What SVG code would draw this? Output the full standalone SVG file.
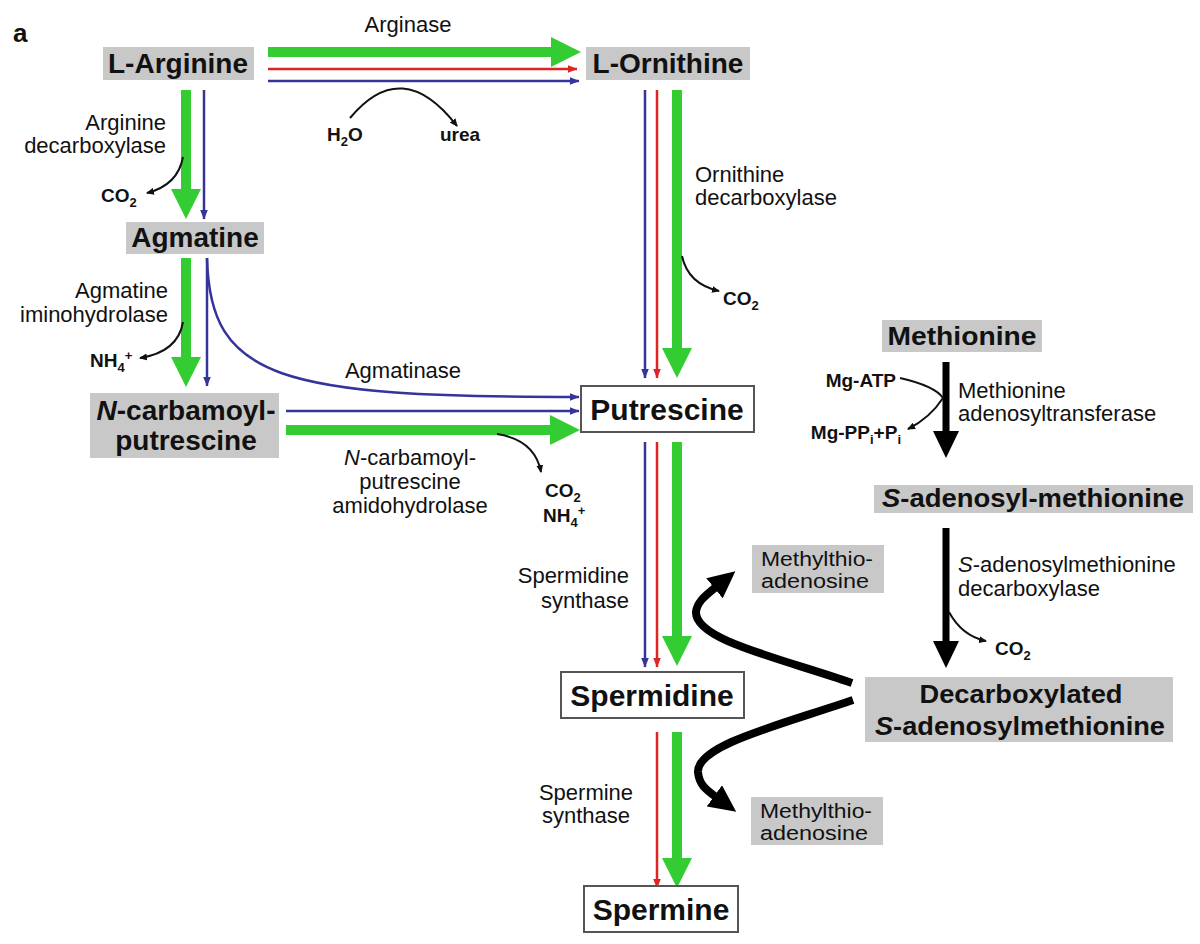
<svg xmlns="http://www.w3.org/2000/svg" width="1200" height="944" viewBox="0 0 1200 944">
<defs>
<style>
text{font-family:"Liberation Sans",Arial,sans-serif;fill:#111}
.node{font-weight:bold;font-size:28px;text-anchor:middle}
.big{font-weight:bold;font-size:30px;text-anchor:middle}
.rt{font-weight:bold;font-size:26px;text-anchor:middle}
.lbl{font-size:22px}
.mta{font-size:20px;text-anchor:middle}
.mid{text-anchor:middle}
.end{text-anchor:end}
.chem{font-weight:bold;font-size:19px}
.sub{font-size:13px}
.gbox{fill:#c8c8c8}
.wbox{fill:#fff;stroke:#555;stroke-width:2}
.g{stroke:#33cc33;stroke-width:10;fill:none}
.r{stroke:#e02424;stroke-width:2.5;fill:none}
.b{stroke:#34349a;stroke-width:2.5;fill:none}
.k{stroke:#111;stroke-width:2;fill:none}
.K{stroke:#000;stroke-width:7;fill:none}
.KC{stroke:#000;stroke-width:8;fill:none}
</style>
<marker id="gh" markerUnits="userSpaceOnUse" markerWidth="31" markerHeight="30" refX="0" refY="15" orient="auto"><path d="M0,0 L30,15 L0,30 z" fill="#33cc33"/></marker>
<marker id="rh" markerUnits="userSpaceOnUse" markerWidth="10" markerHeight="8" refX="9.5" refY="4" orient="auto"><path d="M0,0 L10,4 L0,8 z" fill="#e02424"/></marker>
<marker id="bh" markerUnits="userSpaceOnUse" markerWidth="10" markerHeight="8" refX="9.5" refY="4" orient="auto"><path d="M0,0 L10,4 L0,8 z" fill="#34349a"/></marker>
<marker id="kh" markerUnits="userSpaceOnUse" markerWidth="8" markerHeight="7" refX="7" refY="3.5" orient="auto"><path d="M0,0 L8,3.5 L0,7 z" fill="#111"/></marker>
<marker id="Kh" markerUnits="userSpaceOnUse" markerWidth="28" markerHeight="26" refX="0" refY="13" orient="auto"><path d="M0,0 L27,13 L0,26 z" fill="#000"/></marker>
<marker id="KCh" markerUnits="userSpaceOnUse" markerWidth="28" markerHeight="26" refX="2" refY="13" orient="auto"><path d="M0,0 L27,13 L0,26 z" fill="#000"/></marker>
</defs>
<rect width="1200" height="944" fill="#fff"/>
<text x="13" y="42" style="font-weight:bold;font-size:26px">a</text>

<g id="connectors">
<!-- Arginine -> Ornithine -->
<line class="g" x1="268" y1="52" x2="551" y2="52" marker-end="url(#gh)"/>
<line class="r" x1="268" y1="69" x2="577" y2="69" marker-end="url(#rh)"/>
<line class="b" x1="268" y1="81" x2="579" y2="81" marker-end="url(#bh)"/>
<path class="k" d="M350,118 Q402,55 457,126" marker-end="url(#kh)"/>
<!-- Arginine -> Agmatine -->
<line class="g" x1="186" y1="90" x2="186" y2="189" marker-end="url(#gh)"/>
<line class="b" x1="204" y1="90" x2="204" y2="219" marker-end="url(#bh)"/>
<path class="k" d="M183,157 Q178,185 147,193" marker-end="url(#kh)"/>
<!-- Agmatine -> N-carbamoyl -->
<line class="g" x1="186" y1="258" x2="186" y2="357" marker-end="url(#gh)"/>
<line class="b" x1="207" y1="258" x2="207" y2="386" marker-end="url(#bh)"/>
<path class="k" d="M183,322 Q178,352 140,358" marker-end="url(#kh)"/>
<!-- Agmatinase -->
<path class="b" d="M207,258 C210,380 280,397 579,397" marker-end="url(#bh)"/>
<!-- N-carbamoyl -> Putrescine -->
<line class="b" x1="286" y1="411" x2="579" y2="411" marker-end="url(#bh)"/>
<line class="g" x1="286" y1="430" x2="550" y2="430" marker-end="url(#gh)"/>
<path class="k" d="M497,434 Q535,440 541,472" marker-end="url(#kh)"/>
<!-- Ornithine -> Putrescine -->
<line class="b" x1="645" y1="90" x2="645" y2="378" marker-end="url(#bh)"/>
<line class="r" x1="657" y1="90" x2="657" y2="378" marker-end="url(#rh)"/>
<line class="g" x1="677" y1="90" x2="677" y2="348" marker-end="url(#gh)"/>
<path class="k" d="M682,256 Q688,284 719,291" marker-end="url(#kh)"/>
<!-- Putrescine -> Spermidine -->
<line class="b" x1="645" y1="442" x2="645" y2="667" marker-end="url(#bh)"/>
<line class="r" x1="657" y1="442" x2="657" y2="667" marker-end="url(#rh)"/>
<line class="g" x1="677" y1="442" x2="677" y2="636" marker-end="url(#gh)"/>
<!-- Spermidine -> Spermine -->
<line class="r" x1="657" y1="732" x2="657" y2="888" marker-end="url(#rh)"/>
<line class="g" x1="677" y1="732" x2="677" y2="858" marker-end="url(#gh)"/>
<!-- Methionine -> SAM -->
<line class="K" x1="946" y1="362" x2="946" y2="431" marker-end="url(#Kh)"/>
<path class="k" d="M900,378 Q935,386 943,398 Q930,418 908,429" marker-end="url(#kh)"/>
<!-- SAM -> dcSAM -->
<line class="K" x1="946" y1="528" x2="946" y2="641" marker-end="url(#Kh)"/>
<path class="k" d="M949,612 Q962,636 986,641" marker-end="url(#kh)"/>
<!-- dcSAM -> MTA -->
<path class="KC" d="M852,683 C780,658 695,640 696,612 C697,602 705,596 716,587" marker-end="url(#KCh)"/>
<path class="KC" d="M853,700 C780,725 697,745 698,772 C699,784 705,789 716,797" marker-end="url(#KCh)"/>
</g>

<g id="labels">
<text class="lbl mid" x="408" y="32">Arginase</text>
<text class="chem" x="327" y="141">H<tspan class="sub" dy="5">2</tspan><tspan dy="-5">O</tspan></text>
<text class="chem" x="440" y="141">urea</text>
<text class="lbl end" x="166" y="130">Arginine</text>
<text class="lbl end" x="166" y="153">decarboxylase</text>
<text class="chem" x="101" y="202">CO<tspan class="sub" dy="5">2</tspan></text>
<text class="lbl end" x="168" y="298">Agmatine</text>
<text class="lbl end" x="168" y="322">iminohydrolase</text>
<text class="chem" x="90" y="367">NH<tspan class="sub" dy="5">4</tspan><tspan class="sub" dy="-12">+</tspan></text>
<text class="lbl mid" x="403" y="378">Agmatinase</text>
<text class="lbl mid" x="410" y="465"><tspan font-style="italic">N</tspan>-carbamoyl-</text>
<text class="lbl mid" x="410" y="489">putrescine</text>
<text class="lbl mid" x="410" y="513">amidohydrolase</text>
<text class="chem" x="545" y="497">CO<tspan class="sub" dy="5">2</tspan></text>
<text class="chem" x="543" y="522">NH<tspan class="sub" dy="5">4</tspan><tspan class="sub" dy="-12">+</tspan></text>
<text class="lbl" x="695" y="182">Ornithine</text>
<text class="lbl" x="695" y="205">decarboxylase</text>
<text class="chem" x="723" y="305">CO<tspan class="sub" dy="5">2</tspan></text>
<text class="lbl end" x="629" y="583">Spermidine</text>
<text class="lbl end" x="629" y="608">synthase</text>
<text class="lbl mid" x="586" y="800">Spermine</text>
<text class="lbl mid" x="586" y="823">synthase</text>
<text class="chem end" x="896" y="387">Mg-ATP</text>
<text class="chem end" x="901" y="439">Mg-PP<tspan class="sub" dy="5">i</tspan><tspan dy="-5">+P</tspan><tspan class="sub" dy="5">i</tspan></text>
<text class="lbl" x="958" y="398">Methionine</text>
<text class="lbl" x="958" y="421">adenosyltransferase</text>
<text class="lbl" x="958" y="572"><tspan font-style="italic">S</tspan>-adenosylmethionine</text>
<text class="lbl" x="958" y="596">decarboxylase</text>
<text class="chem" x="995" y="655">CO<tspan class="sub" dy="5">2</tspan></text>
</g>

<g id="n-arginine"><rect class="gbox" x="103" y="47" width="151" height="33"/><text class="node" x="178" y="73">L-Arginine</text></g>
<g id="n-ornithine"><rect class="gbox" x="586" y="47" width="164" height="33"/><text class="node" x="668" y="73">L-Ornithine</text></g>
<g id="n-agmatine"><rect class="gbox" x="126" y="222" width="138" height="32"/><text class="node" x="195" y="247">Agmatine</text></g>
<g id="n-ncp"><rect class="gbox" x="90" y="393" width="189" height="65"/><text class="node" x="186" y="420"><tspan font-style="italic">N</tspan>-carbamoyl-</text><text class="node" x="186" y="450">putrescine</text></g>
<g id="n-putrescine"><rect class="wbox" x="581" y="386" width="173" height="46"/><text class="big" x="667" y="420">Putrescine</text></g>
<g id="n-spermidine"><rect class="wbox" x="561" y="672" width="183" height="46"/><text class="big" x="652" y="706">Spermidine</text></g>
<g id="n-spermine"><rect class="wbox" x="584" y="886" width="154" height="46"/><text class="big" x="661" y="920">Spermine</text></g>
<g id="n-methionine"><rect class="gbox" x="882" y="320" width="160" height="32"/><text class="rt" x="962" y="345" textLength="149" lengthAdjust="spacingAndGlyphs">Methionine</text></g>
<g id="n-sam"><rect class="gbox" x="874" y="485" width="319" height="28"/><text class="rt" x="1033" y="507" textLength="302" lengthAdjust="spacingAndGlyphs"><tspan font-style="italic">S</tspan>-adenosyl-methionine</text></g>
<g id="n-dcsam"><rect class="gbox" x="865" y="677" width="308" height="65"/><text class="rt" x="1021" y="703" textLength="203" lengthAdjust="spacingAndGlyphs">Decarboxylated</text><text class="rt" x="1020" y="735" textLength="290" lengthAdjust="spacingAndGlyphs"><tspan font-style="italic">S</tspan>-adenosylmethionine</text></g>
<g id="n-mta1"><rect class="gbox" x="752" y="545" width="132" height="48"/><text class="mta" x="817" y="566" textLength="112" lengthAdjust="spacingAndGlyphs">Methylthio-</text><text class="mta" x="815" y="588" textLength="108" lengthAdjust="spacingAndGlyphs">adenosine</text></g>
<g id="n-mta2"><rect class="gbox" x="751" y="797" width="132" height="48"/><text class="mta" x="816" y="818" textLength="112" lengthAdjust="spacingAndGlyphs">Methylthio-</text><text class="mta" x="814" y="840" textLength="108" lengthAdjust="spacingAndGlyphs">adenosine</text></g>
</svg>
